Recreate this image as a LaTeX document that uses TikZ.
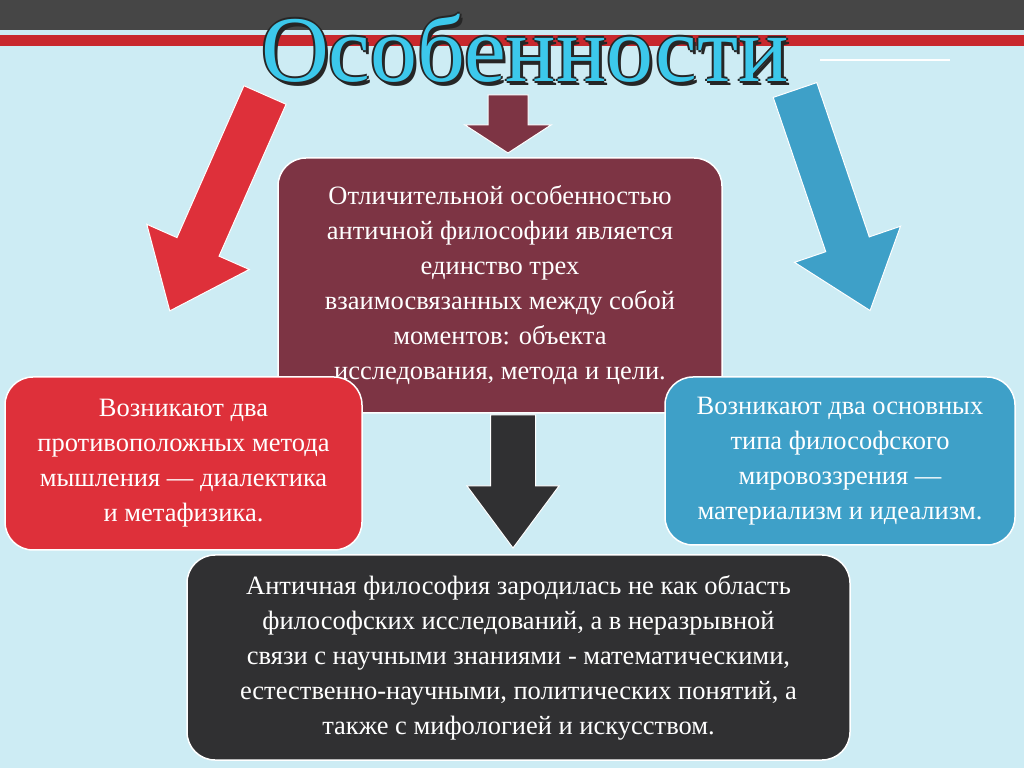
\documentclass[tikz,border=0pt]{standalone}
\usepackage{fontspec}
\setmainfont{Liberation Serif}
\usetikzlibrary{positioning}
\definecolor{bgColor}{RGB}{205,236,244}
\definecolor{barColor}{RGB}{70,70,70}
\definecolor{stripeColor}{RGB}{200,40,45}
\definecolor{titleColor}{RGB}{60,200,235}
\definecolor{wineColor}{RGB}{125,52,68}
\definecolor{redColor}{RGB}{222,48,58}
\definecolor{blueColor}{RGB}{62,160,200}
\definecolor{darkColor}{RGB}{48,48,50}
\tikzset{
  box/.style={draw=white,line width=1.5pt,rounded corners=28pt,inner sep=0pt,
    text=white,align=center,font=\fontsize{26.5}{35}\selectfont},
  arrowshape/.style={draw=white,line width=1pt,line join=miter}
}
% tail point, angle, length, shaft width, head width, head length, colour
\newcommand\bigarrow[7]{%
  \begin{scope}[shift={#1},rotate=#2]
    \path[arrowshape,fill=#7] (0,-#4/2) -- (#3-#6,-#4/2) -- (#3-#6,-#5/2) -- (#3,0)
      -- (#3-#6,#5/2) -- (#3-#6,#4/2) -- (0,#4/2) -- cycle;
  \end{scope}}
\begin{document}
\begin{tikzpicture}[x=1pt,y=1pt]
\path[use as bounding box,fill=bgColor] (0,0) rectangle (1024,768);
% top band
\fill[barColor] (0,738) rectangle (1024,768);
\fill[stripeColor] (0,722) rectangle (1024,733);
\draw[white,line width=1.5pt] (820,708) -- (950,708);
% title
\foreach \dx/\dy in {-2/0,2/0,0/-2,0/2,3/-4}
  \node[text=black!85,font=\fontsize{94}{94}\selectfont] at (525+\dx,720+\dy) {Особенности};
\node[text=titleColor,font=\fontsize{94}{94}\selectfont] (title) at (525,720) {Особенности};
% arrows
\bigarrow{(508,673)}{-90}{58}{40}{86}{28}{wineColor}
\bigarrow{(513,353)}{-90}{133}{45}{92}{62}{darkColor}
\bigarrow{(265,673)}{246.2}{236}{46}{112}{70}{redColor}
\bigarrow{(795,678)}{-71.2}{233}{46}{112}{70}{blueColor}
% boxes
\node[box,fill=wineColor,minimum width=444pt,minimum height=255pt] (center) at (500,482.5)
  {Отличительной особенностью\\античной философии является\\единство трех\\взаимосвязанных между собой\\моментов: объекта\\исследования, метода и цели.};
\node[box,fill=redColor,minimum width=357pt,minimum height=173pt] (left) at (183.5,304.5)
  {Возникают два\\противоположных метода\\мышления — диалектика\\и метафизика.};
\node[box,fill=blueColor,minimum width=350pt,minimum height=168pt] (right) at (840,307)
  {Возникают два основных\\типа философского\\мировоззрения —\\материализм и идеализм.};
\node[box,fill=darkColor,minimum width=663pt,minimum height=205pt] (bottom) at (518.5,110.5)
  {Античная философия зародилась не как область\\философских исследований, а в неразрывной\\связи с научными знаниями - математическими,\\естественно-научными, политических понятий, а\\также с мифологией и искусством.};
\end{tikzpicture}
\end{document}
